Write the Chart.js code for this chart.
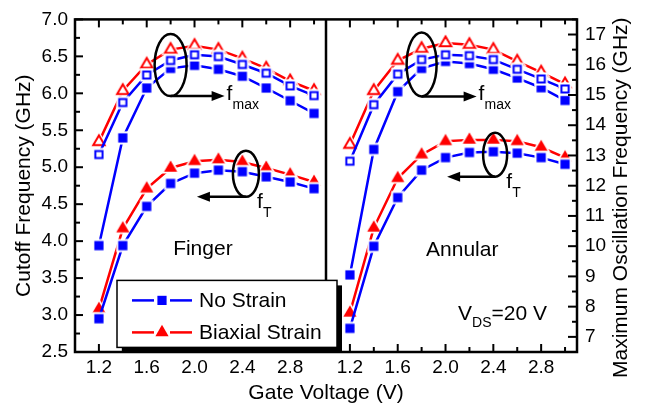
<!DOCTYPE html>
<html lang="en">
<head>
<meta charset="UTF-8">
<title>Cutoff and maximum oscillation frequency vs gate voltage</title>
<style>
  html, body { margin: 0; padding: 0; background: #fff; }
  #chart { display: block; }
</style>
</head>
<body>
<canvas id="chart" width="652" height="409"></canvas>
<script src="https://cdn.jsdelivr.net/npm/chart.js"></script>
<script>
// gate voltage (V), same points in both panels
var gateV = [1.2, 1.4, 1.6, 1.8, 2.0, 2.2, 2.4, 2.6, 2.8, 3.0];
var xTickLabels = ['1.2', '1.6', '2.0', '2.4', '2.8'];
var cutoffTicks = [2.5, 3.0, 3.5, 4.0, 4.5, 5.0, 5.5, 6.0, 6.5, 7.0];
var fmaxTicks = [7, 8, 9, 10, 11, 12, 13, 14, 15, 16, 17];

// Finger layout
var fingerFtNoStrain   = [2.95, 3.94, 4.47, 4.78, 4.92, 4.96, 4.94, 4.87, 4.80, 4.71];
var fingerFtBiaxial    = [3.08, 4.17, 4.71, 4.99, 5.08, 5.10, 5.07, 4.99, 4.90, 4.80];
var fingerFmaxNoStrain = [10.02, 13.58, 15.23, 15.88, 15.98, 15.85, 15.62, 15.23, 14.81, 14.39];
var fingerFmaxOpen     = [13.03, 14.75, 15.66, 16.14, 16.33, 16.27, 16.01, 15.72, 15.30, 14.98];
var fingerFmaxBiaxial  = [13.45, 15.14, 16.01, 16.50, 16.63, 16.50, 16.21, 15.88, 15.46, 15.14];

// Annular layout
var annularFtNoStrain   = [2.82, 3.93, 4.59, 4.96, 5.13, 5.20, 5.21, 5.19, 5.13, 5.04];
var annularFtBiaxial    = [3.03, 4.18, 4.85, 5.17, 5.35, 5.37, 5.37, 5.35, 5.27, 5.13];
var annularFmaxNoStrain = [9.05, 13.20, 15.11, 15.88, 16.11, 16.04, 15.85, 15.56, 15.24, 14.82];
var annularFmaxOpen     = [12.81, 14.68, 15.69, 16.17, 16.33, 16.30, 16.17, 15.85, 15.53, 15.20];
var annularFmaxBiaxial  = [13.36, 15.14, 16.14, 16.53, 16.72, 16.66, 16.50, 16.11, 15.75, 15.36];

// the two panels share one x axis; the second one is shifted along it
var panelMin = 1.0, panelMax = 3.1;
var panelShift = panelMax - panelMin;

var BLUE = '#0000ff', RED = '#ff0000';
var FONT = "'Liberation Sans', Arial, sans-serif";
Chart.defaults.font.family = FONT;
Chart.defaults.color = '#000';

// Origin-like symbols: a white rim around each symbol breaks the line next to it
function shapePath(ctx, shape, c, r) {
  ctx.beginPath();
  if (shape === 'rect') {
    ctx.rect(c - r, c - r, 2 * r, 2 * r);
  } else {
    ctx.moveTo(c, c - r);
    ctx.lineTo(c + r * 0.866, c + r * 0.5);
    ctx.lineTo(c - r * 0.866, c + r * 0.5);
    ctx.closePath();
  }
}
function marker(shape, color, open) {
  var r = shape === 'rect' ? 4.6 : 7.6;
  var rim = shape === 'rect' ? 2.0 : 3.4;
  var size = Math.ceil(2 * (r + rim)) + 2;
  var cv = document.createElement('canvas');
  cv.width = size; cv.height = size;
  var g = cv.getContext('2d'), c = size / 2;
  g.fillStyle = '#fff';
  shapePath(g, shape, c, r + rim);
  g.fill();
  shapePath(g, shape, c, open ? r - 1 : r);
  if (open) {
    g.strokeStyle = color; g.lineWidth = 2; g.stroke();
  } else {
    g.fillStyle = color; g.fill();
  }
  return cv;
}

function series(panel, values, axis, color, shape, open) {
  return {
    data: gateV.map(function (v, i) { return { x: v + panel * panelShift, y: values[i] }; }),
    yAxisID: axis,
    borderColor: color,
    backgroundColor: color,
    borderWidth: 2.5,
    pointStyle: marker(shape, color, open),
    pointRadius: 6,
    tension: 0
  };
}

var datasets = [];
[[fingerFtNoStrain, fingerFtBiaxial, fingerFmaxNoStrain, fingerFmaxOpen, fingerFmaxBiaxial],
 [annularFtNoStrain, annularFtBiaxial, annularFmaxNoStrain, annularFmaxOpen, annularFmaxBiaxial]
].forEach(function (p, panel) {
  datasets.push(series(panel, p[0], 'y', BLUE, 'rect', false));
  datasets.push(series(panel, p[1], 'y', RED, 'triangle', false));
  datasets.push(series(panel, p[3], 'y2', BLUE, 'rect', true));
  datasets.push(series(panel, p[4], 'y2', RED, 'triangle', true));
  datasets.push(series(panel, p[2], 'y2', BLUE, 'rect', false));
});

// ellipse + arrow call-outs, centred in data units
var callouts = [
  { panel: 0, x: 1.80, y: 15.99, axis: 'y2', rx: 16, ry: 31, dir: 1, len: 54, sub: 'max' },
  { panel: 0, x: 2.43, y: 4.91, axis: 'y', rx: 13, ry: 23, dir: -1, len: 49, sub: 'T' },
  { panel: 1, x: 1.80, y: 16.01, axis: 'y2', rx: 15, ry: 32, dir: 1, len: 55, sub: 'max' },
  { panel: 1, x: 2.415, y: 5.17, axis: 'y', rx: 12, ry: 22, dir: -1, len: 48, sub: 'T' }
];

function line(ctx, x1, y1, x2, y2) {
  ctx.beginPath(); ctx.moveTo(x1, y1); ctx.lineTo(x2, y2); ctx.stroke();
}

var decor = {
  id: 'decor',
  afterDatasetsDraw: function (chart) {
    var ctx = chart.ctx, a = chart.chartArea;
    var sx = chart.scales.x, sy = chart.scales.y, sy2 = chart.scales.y2;
    ctx.save();
    ctx.strokeStyle = '#000';
    ctx.fillStyle = '#000';
    ctx.lineWidth = 2.5;
    ctx.strokeRect(a.left, a.top, a.right - a.left, a.bottom - a.top);
    var xd = sx.getPixelForValue(panelMax);
    line(ctx, xd, a.top, xd, a.bottom);

    // inward ticks
    ctx.lineWidth = 2;
    sx.ticks.forEach(function (t) {
      var px = sx.getPixelForValue(t.value), len = t.label ? 8 : 5;
      line(ctx, px, a.bottom, px, a.bottom - len);
      line(ctx, px, a.top, px, a.top + len);
    });
    cutoffTicks.forEach(function (v, i) {
      var py = sy.getPixelForValue(v);
      line(ctx, a.left, py, a.left + 8, py);
      if (i > 0) {
        var pm = sy.getPixelForValue((v + cutoffTicks[i - 1]) / 2);
        line(ctx, a.left, pm, a.left + 5, pm);
      }
    });
    fmaxTicks.forEach(function (v) {
      var py = sy2.getPixelForValue(v);
      line(ctx, a.right, py, a.right - 9, py);
      var pm = sy2.getPixelForValue(v + 0.5);
      line(ctx, a.right, pm, a.right - 5, pm);
    });

    // call-outs
    ctx.lineWidth = 2.5;
    callouts.forEach(function (c) {
      var cx = sx.getPixelForValue(c.x + c.panel * panelShift);
      var cy = chart.scales[c.axis].getPixelForValue(c.y);
      ctx.beginPath();
      ctx.ellipse(cx, cy, c.rx, c.ry, 0, 0, Math.PI * 2);
      ctx.stroke();
      var by = cy + c.ry, tip = cx + c.dir * c.len;
      line(ctx, cx, by, tip - c.dir * 10, by);
      ctx.beginPath();
      ctx.moveTo(tip, by);
      ctx.lineTo(tip - c.dir * 13, by - 5);
      ctx.lineTo(tip - c.dir * 13, by + 5);
      ctx.closePath();
      ctx.fill();
      ctx.textBaseline = 'alphabetic';
      ctx.textAlign = 'left';
      var fx, fy, sy0;
      if (c.dir > 0) { fx = tip + 2; fy = by + 4; sy0 = by + 13; }
      else { fx = cx + 11; fy = by + 11; sy0 = by + 20; }
      ctx.font = '21px ' + FONT;
      ctx.fillText('f', fx, fy);
      ctx.font = '14px ' + FONT;
      ctx.fillText(c.sub, fx + 6, sy0);
    });

    // panel names and bias
    ctx.font = '21px ' + FONT;
    ctx.textAlign = 'center';
    ctx.textBaseline = 'middle';
    ctx.fillText('Finger', sx.getPixelForValue(2.07), sy.getPixelForValue(3.89));
    ctx.fillText('Annular', sx.getPixelForValue(2.14 + panelShift), sy.getPixelForValue(3.88));
    ctx.textAlign = 'left';
    ctx.textBaseline = 'alphabetic';
    var vx = sx.getPixelForValue(2.105 + panelShift), vy = sy.getPixelForValue(2.93);
    ctx.fillText('V', vx, vy);
    var vw = ctx.measureText('V').width;
    ctx.font = '14px ' + FONT;
    ctx.fillText('DS', vx + vw, vy + 7);
    var dw = ctx.measureText('DS').width;
    ctx.font = '21px ' + FONT;
    ctx.fillText('=20 V', vx + vw + dw, vy);

    // legend box with shadow
    var lx = a.left + 42, ly = a.top + 261, lw = 220, lh = 67;
    ctx.fillStyle = '#000';
    ctx.fillRect(lx + 5, ly + 5, lw, lh);
    ctx.fillStyle = '#fff';
    ctx.fillRect(lx, ly, lw, lh);
    ctx.lineWidth = 1.5;
    ctx.strokeRect(lx, ly, lw, lh);
    [['No Strain', BLUE, 'rect'], ['Biaxial Strain', RED, 'triangle']].forEach(function (e, i) {
      var y = ly + 20 + i * 32, mx = lx + 45;
      ctx.strokeStyle = e[1];
      ctx.fillStyle = e[1];
      ctx.lineWidth = 2.5;
      line(ctx, lx + 15, y, mx - 8, y);
      line(ctx, mx + 8, y, lx + 75, y);
      ctx.beginPath();
      if (e[2] === 'rect') {
        ctx.rect(mx - 4.6, y - 4.6, 9.2, 9.2);
      } else {
        ctx.moveTo(mx, y - 7.6);
        ctx.lineTo(mx + 6.6, y + 3.8);
        ctx.lineTo(mx - 6.6, y + 3.8);
        ctx.closePath();
      }
      ctx.fill();
      ctx.fillStyle = '#000';
      ctx.font = '21px ' + FONT;
      ctx.textBaseline = 'middle';
      ctx.fillText(e[0], lx + 82, y + 1);
    });

    // right axis title, reading upwards
    ctx.save();
    ctx.translate(621, (a.top + a.bottom) / 2 + 12);
    ctx.rotate(-Math.PI / 2);
    ctx.textAlign = 'center';
    ctx.textBaseline = 'middle';
    ctx.font = '21px ' + FONT;
    ctx.fillStyle = '#000';
    ctx.fillText('Maximum Oscillation Frequency (GHz)', 0, 0);
    ctx.restore();
    ctx.restore();
  }
};

new Chart(document.getElementById('chart'), {
  type: 'line',
  data: { datasets: datasets },
  options: {
    responsive: false,
    animation: false,
    devicePixelRatio: 1,
    layout: { padding: { left: 0, right: 0, top: 12, bottom: 0 } },
    plugins: { legend: { display: false }, tooltip: { enabled: false } },
    scales: {
      x: {
        type: 'linear',
        min: panelMin,
        max: panelMin + 2 * panelShift,
        afterBuildTicks: function (s) {
          var t = [];
          [0, 1].forEach(function (p) {
            gateV.forEach(function (v) { t.push({ value: v + p * panelShift }); });
          });
          s.ticks = t;
        },
        afterFit: function (s) { s.height = 57; },
        ticks: {
          autoSkip: false, maxRotation: 0, padding: 4,
          font: { size: 19 },
          callback: function (value) {
            var v = value > panelMax ? value - panelShift : value;
            var s = v.toFixed(1);
            return xTickLabels.indexOf(s) >= 0 ? s : '';
          }
        },
        grid: { display: false, drawTicks: false },
        border: { display: false },
        title: { display: true, text: 'Gate Voltage (V)', font: { size: 21 }, padding: { top: 0, bottom: 3 } }
      },
      y: {
        position: 'left',
        min: 2.5, max: 7.0,
        afterBuildTicks: function (s) { s.ticks = cutoffTicks.map(function (v) { return { value: v }; }); },
        afterFit: function (s) { s.width = 75; },
        ticks: { padding: 7, font: { size: 19 }, callback: function (v) { return v.toFixed(1); } },
        grid: { display: false, drawTicks: false },
        border: { display: false },
        title: { display: true, text: 'Cutoff Frequency (GHz)', font: { size: 21 }, padding: { top: 12, bottom: 0 } }
      },
      y2: {
        position: 'right',
        min: 6.5, max: 17.5,
        afterBuildTicks: function (s) { s.ticks = fmaxTicks.map(function (v) { return { value: v }; }); },
        afterFit: function (s) { s.width = 75; },
        ticks: { padding: 8, font: { size: 19 }, callback: function (v) { return String(v); } },
        grid: { display: false, drawTicks: false },
        border: { display: false }
      }
    }
  },
  plugins: [decor]
});
</script>
</body>
</html>
